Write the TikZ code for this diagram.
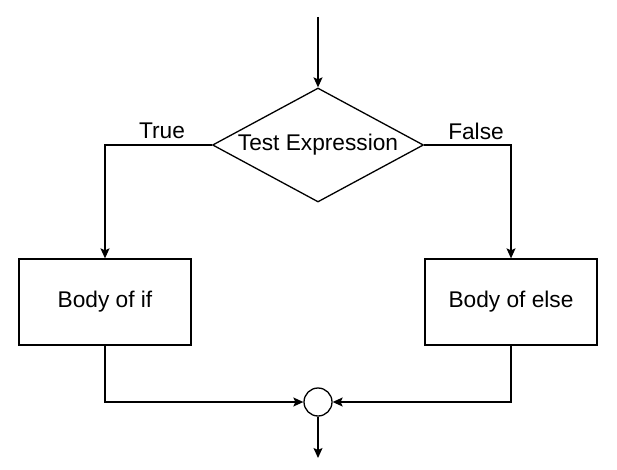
\documentclass[tikz,border=0pt]{standalone}
\usepackage{fontspec}
\setmainfont{Liberation Sans}
\usetikzlibrary{shapes.geometric,arrows.meta}

\tikzset{
  decision/.style={draw, shape=diamond, aspect=1.85, inner sep=0pt,
    minimum width=211pt, minimum height=114pt},
  block/.style={draw, rectangle, inner sep=0pt,
    minimum width=172pt, minimum height=86pt},
  joint/.style={draw, circle, inner sep=0pt, minimum size=28pt},
  flow/.style={-{Stealth[length=10pt,width=9pt,inset=2pt]}}
}

\begin{document}
\begin{tikzpicture}[x=1pt, y=-1pt, line width=1.3pt,
    font=\fontsize{22.7}{26}\selectfont]
      \useasboundingbox (0,0) rectangle (617,470);

      \coordinate (start) at (318,17);
      \node[decision] (test) at (318,145) {Test Expression};

      \node (true) at (162,131) {True};
      \node (false) at (476,131) {False};

      \node[block] (if) at (105,302) {Body of if};
      \node[block] (else) at (511,302) {Body of else};

      \node[joint] (join) at (318,402) {};
      \coordinate (end) at (318,458);

      \draw[flow] (start) -- (test.north);
      \draw[flow] (test.west) -| (if.north);
      \draw[flow] (test.east) -| (else.north);

      \draw[flow] (if.south) |- (join.west);
      \draw[flow] (else.south) |- (join.east);
      \draw[flow] (join.south) -- (end);

    \end{tikzpicture}
\end{document}
